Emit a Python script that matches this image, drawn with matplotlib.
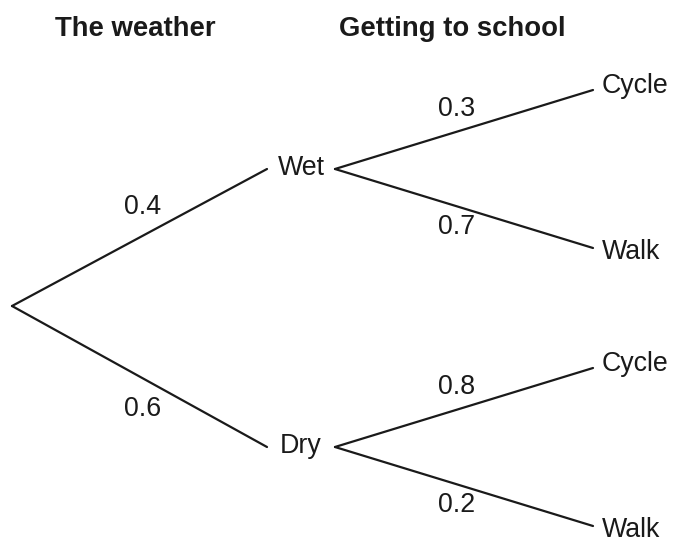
import matplotlib.pyplot as plt

# data
headers = ["The weather", "Getting to school"]
weather = ["Wet", "Dry"]
p_weather = [0.4, 0.6]
travel = ["Cycle", "Walk"]
p_travel = [[0.3, 0.7], [0.8, 0.2]]

# layout (pixel coordinates, y downwards)
W, H = 674, 545
root = (12, 306)
node_y = [169, 447]
x1_end, x1_text, x2_start = 267, 301, 335
x2_end, x2_text = 593, 602
spread = 79
lab1_x, lab2_x = 143, 457

plt.rcParams['font.family'] = ['Liberation Sans', 'DejaVu Sans']
ink = '#1a1a1a'
fs = 19.3

fig = plt.figure(figsize=(W / 100, H / 100), dpi=100)
ax = fig.add_axes([0, 0, 1, 1])
ax.set_xlim(0, W)
ax.set_ylim(H, 0)
ax.axis('off')

ax.text(135, 29, headers[0], fontsize=19.8, fontweight='bold', ha='center', va='center', color=ink)
ax.text(452, 29, headers[1], fontsize=19.8, fontweight='bold', ha='center', va='center', color=ink)

for i, (name, p) in enumerate(zip(weather, p_weather)):
    y = node_y[i]
    ax.plot([root[0], x1_end], [root[1], y], color=ink, lw=1.6, solid_capstyle='round')
    ax.text(x1_text, y - 1, name, fontsize=fs, ha='center', va='center', color=ink)
    off = -31 if i == 0 else 33
    ax.text(lab1_x, (root[1] + y) / 2 + off, f"{p}", fontsize=fs, ha='center', va='center', color=ink)

    for j, (leaf, q) in enumerate(zip(travel, p_travel[i])):
        ly = y - spread if j == 0 else y + spread
        ax.plot([x2_start, x2_end], [y, ly], color=ink, lw=1.6, solid_capstyle='round')
        ax.text(x2_text, ly - 4 if j == 0 else ly + 4, leaf, fontsize=fs, ha='left', va='center', color=ink)
        off2 = -21 if j == 0 else 19
        ax.text(lab2_x, (y + ly) / 2 + off2, f"{q}", fontsize=fs, ha='center', va='center', color=ink)

fig.savefig('out.png', dpi=100)
